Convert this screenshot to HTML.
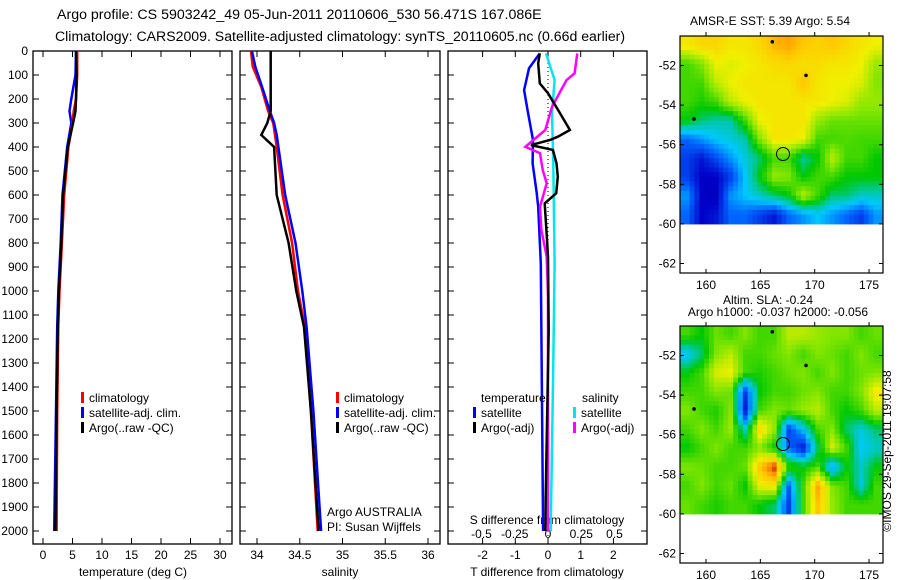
<!DOCTYPE html>
<html><head><meta charset="utf-8"><style>
body{margin:0;background:#fff}
svg{display:block;font-family:"Liberation Sans",sans-serif;font-size:12px}
</style></head><body>
<svg id="c" width="900" height="580" viewBox="0 0 900 580">
<text x="57" y="19" style="font-size:14.2px">Argo profile: CS 5903242_49 05-Jun-2011 20110606_530 56.471S 167.086E</text>
<text x="55" y="41" style="font-size:14.1px">Climatology: CARS2009. Satellite-adjusted climatology: synTS_20110605.nc (0.66d earlier)</text>
<g id="g"></g>
</svg>
<script>
// ---------- data ----------
const depthTicks=[0,100,200,300,400,500,600,700,800,900,1000,1100,1200,1300,1400,1500,1600,1700,1800,1900,2000];
const tempTicks=[0,5,10,15,20,25,30];
const salTicks=[34,34.5,35,35.5,36];
const tdTicks=[-2,-1,0,1,2];
const sdTicks=[-0.5,-0.25,0,0.25,0.5];
const tempDepth=[0,100,200,250,300,400,600,800,1000,1150,1500,2000];
const tempClim=[5.8,5.8,5.6,5.2,5.0,4.3,3.6,3.2,2.8,2.6,2.4,2.3];
const tempSat=[5.6,5.5,4.8,4.5,4.8,4.1,3.3,3.0,2.6,2.4,2.2,1.9];
const tempArgo=[5.6,5.7,5.6,5.5,5.1,4.2,3.4,3.1,2.7,2.5,2.3,2.1];
const salDepth=[0,65,150,250,300,350,400,600,800,1000,1150,1500,2000];
const salClim=[33.93,33.95,34.05,34.13,34.19,34.21,34.23,34.3,34.41,34.48,34.56,34.63,34.71];
const salSat=[33.94,33.98,34.06,34.15,34.2,34.23,34.25,34.33,34.45,34.53,34.58,34.66,34.75];
const salArgo=[34.16,34.16,34.16,34.16,34.12,34.05,34.2,34.23,34.37,34.46,34.55,34.63,34.72];
const tdDepth=[10,72,163,250,371,468,588,649,885,2000];
const tdSat=[-0.25,-0.58,-0.73,-0.62,-0.46,-0.47,-0.35,-0.3,-0.22,-0.15];
const tdArgoDepth=[10,51,135,176,260,329,357,371,392,412,468,524,593,635,746,857,1163,1857,2000];
const tdArgo=[-0.25,-0.3,-0.25,0,0.37,0.67,0.3,0.06,-0.52,0.15,0.26,0.3,0.25,-0.1,-0.05,0,0.02,-0.07,-0.08];
const sdSatDepth=[10,121,260,468,885,1301,2000];
const sdSat=[-0.015,0.05,0.03,0.04,0.05,0.04,0.02];
const sdArgoDepth=[10,93,121,232,329,371,399,426,496,551,649,746,857,1024,2000];
const sdArgo=[0.22,0.2,0.14,0.03,-0.02,-0.11,-0.17,-0.06,-0.04,-0.01,-0.06,-0.05,-0.01,0,0];
const lonTicks=[160,165,170,175];
const latTicks=[-52,-54,-56,-58,-60,-62];
const sstGrid=[
[0.72,0.75,0.75,0.72,0.72,0.75,0.8,0.82,0.78,0.76,0.78,0.75,0.72,0.7],
[0.55,0.6,0.7,0.68,0.7,0.72,0.74,0.75,0.73,0.74,0.72,0.72,0.7,0.62],
[0.55,0.55,0.65,0.7,0.72,0.72,0.72,0.72,0.78,0.72,0.7,0.7,0.68,0.6],
[0.55,0.52,0.55,0.65,0.7,0.72,0.72,0.72,0.72,0.72,0.7,0.68,0.62,0.62],
[0.5,0.45,0.42,0.42,0.55,0.7,0.72,0.72,0.72,0.62,0.58,0.58,0.58,0.58],
[0.25,0.3,0.35,0.38,0.42,0.6,0.72,0.72,0.7,0.55,0.55,0.56,0.55,0.55],
[0.2,0.15,0.22,0.3,0.38,0.45,0.55,0.55,0.42,0.5,0.65,0.55,0.55,0.5],
[0.2,0.12,0.12,0.2,0.35,0.5,0.62,0.6,0.5,0.55,0.55,0.5,0.5,0.5],
[0.3,0.12,0.1,0.3,0.35,0.4,0.45,0.5,0.65,0.55,0.45,0.45,0.4,0.4],
[0.25,0.12,0.15,0.25,0.25,0.2,0.15,0.25,0.3,0.35,0.3,0.25,0.2,0.3]];
const slaGrid=[
[0.55,0.5,0.58,0.55,0.6,0.55,0.55,0.65,0.65,0.62,0.6,0.6,0.55,0.58],
[0.35,0.45,0.6,0.65,0.55,0.55,0.58,0.6,0.55,0.6,0.58,0.55,0.6,0.55],
[0.5,0.55,0.68,0.7,0.55,0.52,0.55,0.58,0.6,0.55,0.6,0.55,0.58,0.6],
[0.55,0.55,0.6,0.58,0.2,0.5,0.55,0.55,0.58,0.6,0.55,0.55,0.6,0.72],
[0.6,0.55,0.52,0.6,0.15,0.55,0.6,0.58,0.62,0.65,0.55,0.5,0.55,0.65],
[0.55,0.6,0.55,0.62,0.4,0.75,0.62,0.2,0.35,0.55,0.6,0.45,0.38,0.45],
[0.5,0.55,0.6,0.55,0.55,0.6,0.5,0.25,0.15,0.45,0.68,0.55,0.35,0.4],
[0.6,0.58,0.55,0.55,0.58,0.78,0.92,0.55,0.5,0.55,0.3,0.5,0.4,0.5],
[0.55,0.6,0.55,0.58,0.5,0.7,0.72,0.25,0.55,0.82,0.6,0.55,0.38,0.55],
[0.58,0.55,0.52,0.55,0.55,0.5,0.45,0.2,0.55,0.78,0.62,0.55,0.55,0.55]];
// ---------- helpers ----------
const NS="http://www.w3.org/2000/svg";
const G=document.getElementById('g');
function mk(tag,attrs,parent){const e=document.createElementNS(NS,tag);for(const k in attrs)e.setAttribute(k,attrs[k]);(parent||G).appendChild(e);return e;}
const TOP=51,BOT=544,DS=0.24;
const yD=d=>TOP+d*DS;
const cmapStops=[[0,0,0,120],[0.12,0,0,200],[0.25,0,100,255],[0.35,0,200,255],[0.42,0,200,170],[0.5,0,200,0],[0.6,130,230,0],[0.7,240,240,0],[0.78,255,200,0],[0.85,255,140,0],[0.92,200,40,0],[1,140,0,0]];
function cmap(v){v=Math.max(0,Math.min(1,v));
  for(let i=1;i<cmapStops.length;i++){const a=cmapStops[i-1],b=cmapStops[i];
    if(v<=b[0]){const f=(v-a[0])/(b[0]-a[0]);return `rgb(${Math.round(a[1]+f*(b[1]-a[1]))},${Math.round(a[2]+f*(b[2]-a[2]))},${Math.round(a[3]+f*(b[3]-a[3]))})`;}}
  return 'rgb(140,0,0)';}
function panel(x0,x1,name){
  const r=mk('rect',{x:x0,y:TOP,width:x1-x0,height:BOT-TOP,fill:'none',stroke:'#000','stroke-width':1.3});
  
  
  depthTicks.forEach(d=>{mk('line',{x1:x0,x2:x0+6,y1:yD(d),y2:yD(d),stroke:'#000'});mk('line',{x1:x1-6,x2:x1,y1:yD(d),y2:yD(d),stroke:'#000'});});
}
function xticks(ticks,sx,labelY,name,bottomTicks){
  ticks.forEach(t=>{const x=sx(t);
    mk('line',{x1:x,x2:x,y1:TOP,y2:TOP+6,stroke:'#000'});
    if(bottomTicks)mk('line',{x1:x,x2:x,y1:BOT-6,y2:BOT,stroke:'#000'});
    const tx=mk('text',{x:x,y:labelY,'text-anchor':'middle'});tx.textContent=String(t);
    
    
  });
}
function line(xs,ds,sx,color,name,w){
  const p=xs.map((v,i)=>`${sx(v).toFixed(1)},${yD(ds[i]).toFixed(1)}`).join(' ');
  const e=mk('polyline',{points:p,fill:'none',stroke:color,'stroke-width':w||2.5,'stroke-linejoin':'miter'});
  
  
}
function text(x,y,s,name,anchor){const t=mk('text',{x:x,y:y,'text-anchor':anchor||'start'});t.textContent=s;
  
  return t;}
function legend(x,y,color,label,name){mk('rect',{x:x,y:y-10,width:3,height:11,fill:color});text(x+8,y,label,name);}
// ---------- depth labels ----------
depthTicks.forEach(d=>{text(28,yD(d)+4,String(d),'depth-tick-label','end');});
// ---------- panel 1 temperature ----------
const sxT=t=>43+5.9*t;
panel(33,232,'temperature-panel');
xticks(tempTicks,sxT,559,'temperature-axis',true);
text(133,576,'temperature (deg C)','temperature-axis-title','middle');
line(tempSat,tempDepth,sxT,'#0000ff','temperature-satellite-line');
line(tempClim,tempDepth,sxT,'#ff0000','temperature-climatology-line');
line(tempArgo,tempDepth,sxT,'#000','temperature-argo-line');
legend(81,402,'#ff0000','climatology','legend-climatology');
legend(81,417,'#0000ff','satellite-adj. clim.','legend-satellite-adj');
legend(81,432,'#000','Argo(..raw -QC)','legend-argo');
// ---------- panel 2 salinity ----------
const sxS=s=>257+85.5*(s-34);
panel(240,440,'salinity-panel');
xticks(salTicks,sxS,559,'salinity-axis',true);
text(340,576,'salinity','salinity-axis-title','middle');
line(salClim,salDepth,sxS,'#ff0000','salinity-climatology-line');
line(salSat,salDepth,sxS,'#0000ff','salinity-satellite-line');
line(salArgo,salDepth,sxS,'#000','salinity-argo-line');
legend(336,402,'#ff0000','climatology','legend-climatology-2');
legend(336,417,'#0000ff','satellite-adj. clim.','legend-satellite-adj-2');
legend(336,432,'#000','Argo(..raw -QC)','legend-argo-2');
text(327,516,'Argo AUSTRALIA','agency-label');
text(327,531,'PI: Susan Wijffels','pi-label');
// ---------- panel 3 differences ----------
const sxTd=t=>548+32.7*t;
const sxSd=s=>548+133*s;
panel(448,647,'difference-panel');
xticks(tdTicks,sxTd,559,'t-difference-axis',true);
sdTicks.forEach(s=>{text(sxSd(s),538,String(s),'s-difference-tick-label','middle');});
text(547,524,'S difference from climatology','s-difference-axis-title','middle');
text(547,576,'T difference from climatology','t-difference-axis-title','middle');
mk('line',{x1:548,x2:548,y1:TOP,y2:BOT,stroke:'#000','stroke-dasharray':'1,3'});
line(tdSat,tdDepth,sxTd,'#0000ff','t-diff-satellite-line');
line(sdSat,sdSatDepth,sxSd,'#00e5ee','s-diff-satellite-line');
line(sdArgo,sdArgoDepth,sxSd,'#ff00ff','s-diff-argo-line');
line(tdArgo,tdArgoDepth,sxTd,'#000','t-diff-argo-line');
text(481,402,'temperature','legend-temperature-header');
legend(473,417,'#0000ff','satellite','legend-t-satellite');
legend(473,432,'#000','Argo(-adj)','legend-t-argo');
text(582,402,'salinity','legend-salinity-header');
legend(573,417,'#00e5ee','satellite','legend-s-satellite');
legend(573,432,'#ff00ff','Argo(-adj)','legend-s-argo');
// ---------- maps ----------
function sample(grid,u,v){
  const R=grid.length,C=grid[0].length;
  let x=u*C-0.5,y=v*R-0.5;x=Math.max(0,Math.min(C-1,x));y=Math.max(0,Math.min(R-1,y));
  const i0=Math.floor(y),j0=Math.floor(x),i1=Math.min(R-1,i0+1),j1=Math.min(C-1,j0+1),fy=y-i0,fx=x-j0;
  return grid[i0][j0]*(1-fx)*(1-fy)+grid[i0][j1]*fx*(1-fy)+grid[i1][j0]*(1-fx)*fy+grid[i1][j1]*fx*fy;
}
function map(y0,grid,name){
  const X0=680,X1=883,H=237;
  const lonX=l=>706+(l-160)*10.87;
  const latY=l=>y0+29.5+(-52-l)*19.8;
  const W=X1-X0,Hd=latY(-60)-y0;
  const NX=grid[0].length*3,NY=grid.length*4;
  const cw=W/NX,ch=Hd/NY;
  for(let i=0;i<NY;i++)for(let j=0;j<NX;j++){
    const v=sample(grid,(j+0.5)/NX,(i+0.5)/NY);
    const c=mk('rect',{x:(X0+j*cw).toFixed(2),y:(y0+i*ch).toFixed(2),width:(cw+0.5).toFixed(2),height:(ch+0.5).toFixed(2),fill:cmap(v)});
    
    
  }
  [[166.1,-50.8],[169.2,-52.5],[158.9,-54.7]].forEach(p=>mk('circle',{cx:lonX(p[0]),cy:latY(p[1]),r:1.8,fill:'#000'}));
  const ci=mk('circle',{cx:lonX(167.086),cy:latY(-56.471),r:6.5,fill:'none',stroke:'#000'});
  
  
  const f=mk('rect',{x:X0,y:y0,width:W,height:H,fill:'none',stroke:'#000','stroke-width':1.2});
  
  
  latTicks.forEach(l=>{const y=latY(l);mk('line',{x1:X0,x2:X0+4,y1:y,y2:y,stroke:'#000'});mk('line',{x1:X1-4,x2:X1,y1:y,y2:y,stroke:'#000'});
    text(676,y+4,String(l),name+'-lat-label','end');});
  lonTicks.forEach(l=>{const x=lonX(l);mk('line',{x1:x,x2:x,y1:y0-4,y2:y0,stroke:'#000'});mk('line',{x1:x,x2:x,y1:y0+H-4,y2:y0+H,stroke:'#000'});
    text(x,y0+H+16,String(l),name+'-lon-label','middle');});
}
map(36,sstGrid,'sst-map');
text(770,25,'AMSR-E SST: 5.39 Argo: 5.54','sst-map-title','middle');
map(326,slaGrid,'sla-map');
text(768,304,'Altim. SLA: -0.24','sla-map-title','middle');
text(778,316,'Argo h1000: -0.037 h2000: -0.056','sla-map-subtitle','middle');
const cp=text(0,0,'©IMOS 29-Sep-2011 19:07:58','imos-stamp','middle');
cp.setAttribute('transform','translate(891,451) rotate(-90)');
</script>
</body></html>
